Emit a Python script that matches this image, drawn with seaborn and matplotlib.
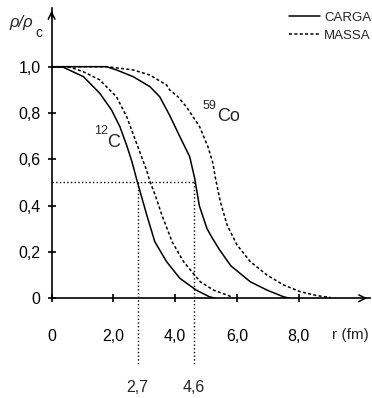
#!/usr/bin/env python3
import pandas as pd
import seaborn as sns
import matplotlib.pyplot as plt
from matplotlib.lines import Line2D

# densidade relativa rho/rho_c em funcao de r (fm)
r_c12_carga = [0, 0.37, 1.03, 1.56, 1.94, 2.21, 2.43, 2.6, 2.78, 2.95, 3.1, 3.34, 3.72, 4.15, 4.68, 5.11, 5.3]
rho_c12_carga = [1, 0.998, 0.957, 0.885, 0.813, 0.741, 0.66, 0.59, 0.5, 0.42, 0.35, 0.244, 0.158, 0.086, 0.035, 0.006, 0.0]

r_c12_massa = [0, 0.6, 1.03, 1.56, 2.1, 2.43, 2.75, 3.07, 3.18, 3.35, 3.57, 3.9, 4.27, 4.81, 5.24, 5.73, 5.9]
rho_c12_massa = [1, 0.998, 0.978, 0.943, 0.87, 0.784, 0.669, 0.554, 0.505, 0.446, 0.359, 0.244, 0.158, 0.071, 0.035, 0.011, 0.0]

r_co59_carga = [0, 1.78, 2.1, 2.64, 3.18, 3.5, 3.82, 4.15, 4.47, 4.63, 4.78, 5.03, 5.2, 5.43, 5.8, 6.43, 6.97, 7.51, 7.7]
rho_co59_carga = [1, 1, 0.986, 0.957, 0.914, 0.87, 0.79, 0.698, 0.611, 0.518, 0.40, 0.30, 0.26, 0.21, 0.14, 0.071, 0.035, 0.006, 0.0]

r_co59_massa = [0, 1.8, 2.64, 3.18, 3.72, 3.82, 4.09, 4.36, 4.79, 5.06, 5.22, 5.3, 5.46, 5.68, 6.0, 6.43, 6.97, 7.51, 8.05, 8.59, 9.03]
rho_co59_massa = [1, 1, 0.986, 0.964, 0.921, 0.9, 0.87, 0.827, 0.741, 0.654, 0.583, 0.52, 0.417, 0.316, 0.23, 0.158, 0.1, 0.057, 0.028, 0.011, 0.003]

# raios a meia densidade
r_meio = [2.78, 4.6]
r_meio_labels = ["2,7", "4,6"]

x_ticks = [0, 2, 4, 6, 8]
x_labels = ["0", "2,0", "4,0", "6,0", "8,0"]
y_ticks = [0, 0.2, 0.4, 0.6, 0.8, 1.0]
y_labels = ["0", "0,2", "0,4", "0,6", "0,8", "1,0"]


def main():
    sns.set_theme(style="white")
    plt.rcParams["font.family"] = ["Liberation Sans", "DejaVu Sans"]

    parts = []
    for nuc, tipo, r, rho in [("12C", "CARGA", r_c12_carga, rho_c12_carga),
                              ("12C", "MASSA", r_c12_massa, rho_c12_massa),
                              ("59Co", "CARGA", r_co59_carga, rho_co59_carga),
                              ("59Co", "MASSA", r_co59_massa, rho_co59_massa)]:
        parts.append(pd.DataFrame({"r": r, "rho": rho, "nucleo": nuc, "tipo": tipo}))
    df = pd.concat(parts, ignore_index=True)
    df["curva"] = df["nucleo"] + "_" + df["tipo"]

    fig = plt.figure(figsize=(3.72, 3.98), dpi=100)
    ax = fig.add_axes([51.6 / 372, (398 - 298.2) / 398, (370 - 51.6) / 372, (298.2 - 8) / 398])
    xmax = (370 - 51.6) / 30.9
    ymax = (298.2 - 8) / 231.5

    sns.lineplot(data=df, x="r", y="rho", style="tipo", units="curva", estimator=None, sort=False,
                 color="black", linewidth=1.1, dashes={"CARGA": "", "MASSA": (2, 1.5)},
                 legend=False, ax=ax)

    # linhas guia a meia densidade
    ax.plot([0, r_meio[1]], [0.5, 0.5], ls=":", color="black", lw=1)
    for xv, lab in zip(r_meio, r_meio_labels):
        ax.plot([xv, xv], [0.5, -0.29], ls=":", color="black", lw=1, clip_on=False)
        ax.text(xv, -0.385, lab, ha="center", va="center", fontsize=11.5)

    ax.set_xlim(0, xmax)
    ax.set_ylim(0, ymax)
    ax.set_xticks(x_ticks)
    ax.set_xticklabels(x_labels)
    ax.set_yticks(y_ticks)
    ax.set_yticklabels(y_labels)
    ax.tick_params(axis="both", direction="inout", length=6, width=1.2, color="black",
                   labelsize=11.5, labelcolor="black", bottom=True, left=True)
    ax.tick_params(axis="x", pad=19)
    ax.tick_params(axis="y", pad=5)
    ax.set_xlabel("")
    ax.set_ylabel("")
    for s in ["top", "right"]:
        ax.spines[s].set_visible(False)
    for s in ["left", "bottom"]:
        ax.spines[s].set_color("black")
        ax.spines[s].set_linewidth(1.2)

    # setas dos eixos
    ax.annotate("", xy=(0, ymax), xytext=(0, ymax - 0.05),
                arrowprops=dict(arrowstyle="->", color="black", lw=1.1), annotation_clip=False)
    ax.annotate("", xy=(xmax, 0), xytext=(xmax - 0.3, 0),
                arrowprops=dict(arrowstyle="->", color="black", lw=1.1), annotation_clip=False)

    ax.text(9.66, -0.16, "r (fm)", ha="center", va="center", fontsize=11)

    # rotulos dos nucleos
    ax.text(1.38, 0.722, "12", ha="left", va="center", fontsize=9)
    ax.text(1.80, 0.672, "C", ha="left", va="center", fontsize=13)
    ax.text(4.9, 0.83, "59", ha="left", va="center", fontsize=9)
    ax.text(5.35, 0.785, "Co", ha="left", va="center", fontsize=13)

    # eixo y
    fig.text(9 / 372, 1 - 23 / 398, "ρ/ρ", style="italic", fontsize=12, ha="left", va="center")
    fig.text(35 / 372, 1 - 33 / 398, "c", fontsize=10, ha="left", va="center")

    handles = [Line2D([], [], color="black", lw=1.1),
               Line2D([], [], color="black", lw=1.1, dashes=(2, 1.5))]
    fig.legend(handles, ["CARGA", "MASSA"], loc="upper left", bbox_to_anchor=(286 / 372, 1 - 9 / 398),
               frameon=False, fontsize=9.5, handlelength=2.4, handletextpad=0.3, labelspacing=0.45,
               borderaxespad=0, borderpad=0.2)

    fig.savefig("out.png", dpi=100)


if __name__ == "__main__":
    main()
